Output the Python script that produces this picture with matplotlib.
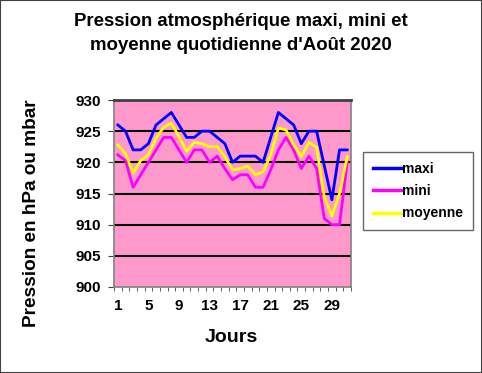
import matplotlib
matplotlib.use("Agg")
import matplotlib.pyplot as plt
from matplotlib.patches import Rectangle

days = list(range(1, 32))
maxi = [926, 925, 922, 922, 923, 926, 927, 928, 926, 924, 924, 925, 925, 924, 923, 920,
        921, 921, 921, 920, 924, 928, 927, 926, 923, 925, 925, 919.5, 914, 922, 922]
mini = [921.2, 920.3, 916, 918, 920, 922, 924, 924, 922, 920, 922, 922, 920, 921, 919, 917.2,
        918, 918, 916, 916, 918.8, 922, 924, 922, 919, 921, 919, 911, 910, 910, 920]
moyenne = [922.8, 921.4, 918.3, 920.3, 921.2, 923.9, 925.6, 926.3, 924.1, 921.8, 923.2, 923, 922.5, 922.5, 920.9, 918.8,
           919, 919.4, 918, 918.5, 921.2, 925.5, 925.2, 922.8, 920.9, 923.2, 922.4, 914.5, 911.4, 915, 920.9]
yticks = [900, 905, 910, 915, 920, 925, 930]
xticklabels = [1, 5, 9, 13, 17, 21, 25, 29]

plt.rcParams['font.family'] = ['Liberation Sans', 'DejaVu Sans']
fig = plt.figure(figsize=(4.82, 3.73), dpi=100)
fig.patches.append(Rectangle((0, 0), 1, 1, transform=fig.transFigure, fill=False,
                             edgecolor='#404040', linewidth=1.5))

ax = fig.add_axes([114/482, 1-287/373, (351-114)/482, (287-100)/373])
ax.set_facecolor('#FF99CC')
ax.set_ylim(900, 930)
for y in yticks[1:-1]:
    ax.axhline(y, color='black', linewidth=1.5, zorder=1)

ax.plot(days, maxi, color='#0000FF', linewidth=2, label='maxi', zorder=3)
ax.plot(days, mini, color='#FF00FF', linewidth=2, label='mini', zorder=3)
ax.plot(days, moyenne, color='#FFFF00', linewidth=2, label='moyenne', zorder=3)

for s in ax.spines.values():
    s.set_color('#808080')
    s.set_linewidth(1.2)
ax.spines['top'].set_color('#404040')
ax.spines['top'].set_linewidth(2)

ax.set_yticks(yticks)
ax.set_yticklabels([str(v) for v in yticks], fontsize=11, fontweight='bold')
ax.set_xticks(xticklabels)
ax.set_xticklabels([str(v) for v in xticklabels], fontsize=11, fontweight='bold')
ax.set_xticks([d - 0.5 for d in days] + [31.5], minor=True)
ax.tick_params(axis='x', which='minor', direction='out', length=3, color='#404040')
ax.tick_params(axis='x', which='major', length=0, pad=9)
ax.tick_params(axis='y', direction='out', length=4, color='#404040', pad=5)
ax.set_xlim(0.5, 31.5)

fig.text(0.5, 1-21/373, "Pression atmosphérique maxi, mini et", ha='center', va='center',
         fontsize=13.4, fontweight='bold')
fig.text(0.5, 1-45/373, "moyenne quotidienne d'Août 2020", ha='center', va='center',
         fontsize=13.4, fontweight='bold')
fig.text(32/482, 1-213/373, "Pression en hPa ou mbar", rotation=90, ha='center', va='center',
         fontsize=13.7, fontweight='bold')
fig.text(231/482, 1-338/373, "Jours", ha='center', va='center', fontsize=14, fontweight='bold')

leg = fig.legend(loc='upper left', bbox_to_anchor=(363/482, 1-152/373), frameon=True,
                 fancybox=False, edgecolor='#404040', fontsize=10, handlelength=2.0,
                 handletextpad=0.1, labelspacing=0.6, borderpad=0.7, borderaxespad=0)
leg.get_frame().set_linewidth(1)
for t in leg.get_texts():
    t.set_fontweight('bold')
for l in leg.get_lines():
    l.set_linewidth(2.5)

fig.savefig('out.png', dpi=100)
